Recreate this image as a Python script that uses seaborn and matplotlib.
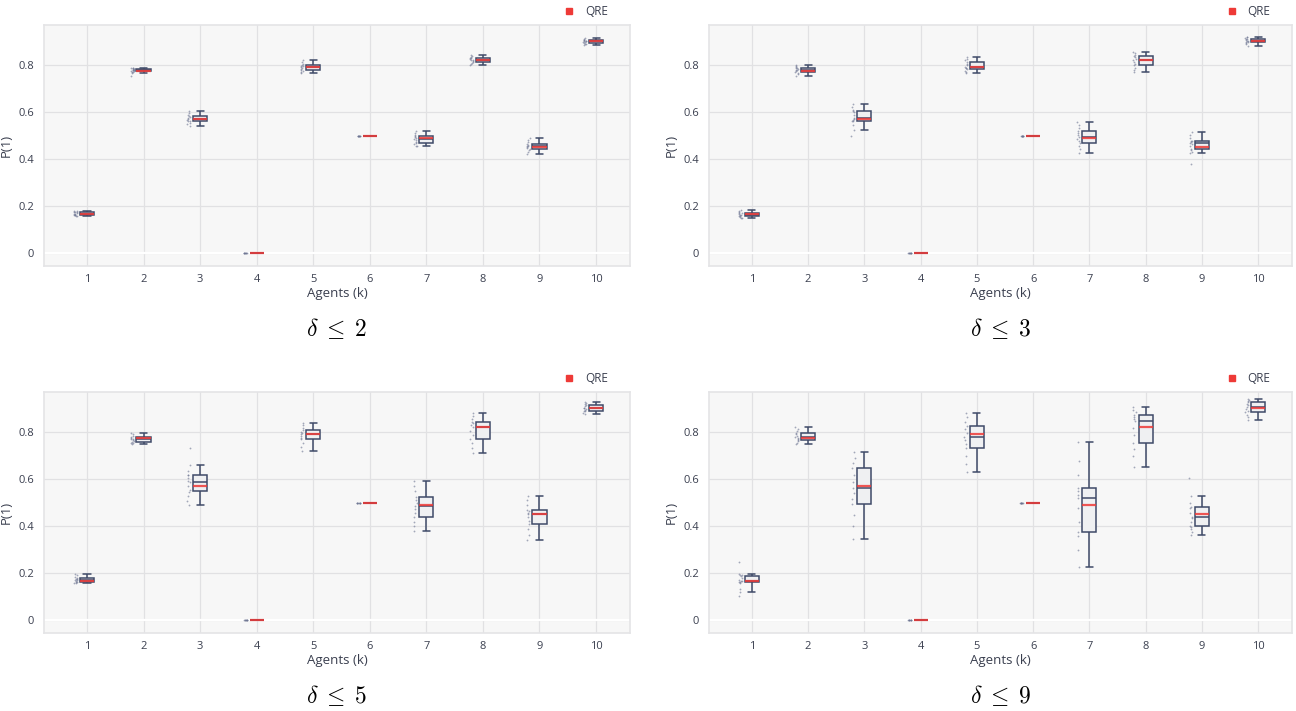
import numpy as np
import pandas as pd
import seaborn as sns
import matplotlib
matplotlib.use("Agg")
import matplotlib.pyplot as plt
from matplotlib.lines import Line2D

# ---------------- data ----------------
agents = [1, 2, 3, 4, 5, 6, 7, 8, 9, 10]
panel_titles = [r"$\delta \;\leq\; 2$", r"$\delta \;\leq\; 3$", r"$\delta \;\leq\; 5$", r"$\delta \;\leq\; 9$"]
qre = [0.168, 0.778, 0.573, 0.003, 0.793, 0.500, 0.493, 0.822, 0.452, 0.904]

delta2 = {
    1: [0.157, 0.159, 0.161, 0.162, 0.164, 0.167, 0.169, 0.171, 0.174, 0.176, 0.178, 0.180, 0.182],
    2: [0.755, 0.766, 0.770, 0.774, 0.775, 0.777, 0.779, 0.780, 0.782, 0.784, 0.786, 0.787, 0.788, 0.789],
    3: [0.544, 0.550, 0.556, 0.562, 0.565, 0.569, 0.572, 0.576, 0.580, 0.584, 0.590, 0.598, 0.605],
    4: [0.0, 0.0, 0.0, 0.0, 0.0, 0.0, 0.0, 0.0],
    5: [0.769, 0.773, 0.777, 0.781, 0.785, 0.789, 0.793, 0.796, 0.799, 0.803, 0.808, 0.814, 0.821],
    6: [0.5, 0.5, 0.5, 0.5, 0.5, 0.5, 0.5, 0.5],
    7: [0.455, 0.459, 0.464, 0.468, 0.474, 0.481, 0.487, 0.491, 0.495, 0.498, 0.505, 0.512, 0.520],
    8: [0.803, 0.808, 0.812, 0.816, 0.819, 0.822, 0.824, 0.827, 0.830, 0.833, 0.837, 0.841, 0.846],
    9: [0.424, 0.432, 0.440, 0.446, 0.449, 0.452, 0.455, 0.459, 0.463, 0.467, 0.474, 0.482, 0.490],
    10: [0.886, 0.890, 0.893, 0.896, 0.898, 0.900, 0.902, 0.904, 0.906, 0.908, 0.910, 0.913, 0.915],
}
delta3 = {
    1: [0.150, 0.152, 0.155, 0.157, 0.160, 0.162, 0.165, 0.167, 0.170, 0.172, 0.176, 0.181, 0.186],
    2: [0.756, 0.762, 0.768, 0.773, 0.776, 0.779, 0.781, 0.784, 0.787, 0.790, 0.794, 0.798, 0.803],
    3: [0.500, 0.527, 0.545, 0.562, 0.564, 0.568, 0.573, 0.577, 0.590, 0.603, 0.604, 0.612, 0.622, 0.634],
    4: [0.0, 0.0, 0.0, 0.0, 0.0, 0.0, 0.0, 0.0],
    5: [0.766, 0.771, 0.777, 0.783, 0.787, 0.790, 0.794, 0.800, 0.808, 0.816, 0.822, 0.829, 0.837],
    6: [0.5, 0.5, 0.5, 0.5, 0.5, 0.5, 0.5, 0.5],
    7: [0.429, 0.442, 0.455, 0.468, 0.478, 0.488, 0.497, 0.505, 0.513, 0.521, 0.534, 0.548, 0.561],
    8: [0.770, 0.781, 0.791, 0.801, 0.808, 0.816, 0.823, 0.829, 0.835, 0.840, 0.846, 0.853, 0.859],
    9: [0.382, 0.425, 0.433, 0.441, 0.445, 0.455, 0.466, 0.470, 0.474, 0.478, 0.480, 0.492, 0.505, 0.518],
    10: [0.884, 0.889, 0.894, 0.899, 0.901, 0.904, 0.906, 0.909, 0.912, 0.914, 0.917, 0.920, 0.923],
}
delta5 = {
    1: [0.157, 0.159, 0.162, 0.164, 0.167, 0.170, 0.172, 0.175, 0.178, 0.181, 0.186, 0.192, 0.198],
    2: [0.751, 0.754, 0.757, 0.760, 0.764, 0.768, 0.771, 0.774, 0.777, 0.780, 0.786, 0.792, 0.799],
    3: [0.493, 0.510, 0.528, 0.547, 0.555, 0.572, 0.588, 0.592, 0.605, 0.617, 0.619, 0.635, 0.661, 0.734],
    4: [0.0, 0.0, 0.0, 0.0, 0.0, 0.0, 0.0, 0.0],
    5: [0.721, 0.738, 0.754, 0.771, 0.778, 0.786, 0.792, 0.797, 0.803, 0.810, 0.820, 0.830, 0.839],
    6: [0.5, 0.5, 0.5, 0.5, 0.5, 0.5, 0.5, 0.5],
    7: [0.381, 0.400, 0.419, 0.438, 0.455, 0.472, 0.488, 0.501, 0.514, 0.527, 0.549, 0.570, 0.592],
    8: [0.711, 0.732, 0.753, 0.774, 0.790, 0.807, 0.823, 0.831, 0.838, 0.846, 0.858, 0.870, 0.882],
    9: [0.342, 0.364, 0.387, 0.409, 0.423, 0.438, 0.452, 0.458, 0.465, 0.471, 0.491, 0.511, 0.531],
    10: [0.879, 0.884, 0.889, 0.893, 0.896, 0.899, 0.902, 0.906, 0.911, 0.915, 0.919, 0.924, 0.928],
}
delta9 = {
    1: [0.105, 0.121, 0.135, 0.160, 0.164, 0.165, 0.167, 0.168, 0.172, 0.180, 0.189, 0.191, 0.194, 0.197, 0.250],
    2: [0.750, 0.756, 0.762, 0.768, 0.772, 0.776, 0.780, 0.786, 0.793, 0.799, 0.807, 0.815, 0.823],
    3: [0.347, 0.400, 0.450, 0.495, 0.518, 0.540, 0.562, 0.590, 0.620, 0.648, 0.670, 0.693, 0.715],
    4: [0.0, 0.0, 0.0, 0.0, 0.0, 0.0, 0.0, 0.0],
    5: [0.632, 0.667, 0.700, 0.733, 0.750, 0.766, 0.782, 0.797, 0.813, 0.828, 0.846, 0.865, 0.883],
    6: [0.5, 0.5, 0.5, 0.5, 0.5, 0.5, 0.5, 0.5],
    7: [0.229, 0.300, 0.360, 0.378, 0.420, 0.480, 0.520, 0.535, 0.550, 0.564, 0.620, 0.680, 0.758],
    8: [0.654, 0.700, 0.730, 0.756, 0.790, 0.820, 0.847, 0.857, 0.867, 0.876, 0.886, 0.897, 0.907],
    9: [0.363, 0.375, 0.388, 0.399, 0.403, 0.420, 0.436, 0.440, 0.455, 0.479, 0.481, 0.500, 0.531, 0.604],
    10: [0.853, 0.865, 0.876, 0.886, 0.893, 0.900, 0.907, 0.915, 0.923, 0.930, 0.934, 0.938, 0.942],
}
panels = [delta2, delta3, delta5, delta9]

# ---------------- style ----------------
sns.set_theme(style="whitegrid")
plt.rcParams["font.family"] = ["Open Sans", "DejaVu Sans"]
plt.rcParams["mathtext.fontset"] = "cm"

BOX_LINE = "#3f4a68"
BOX_FILL = "#eef0f3"
POINT_C = "#6a7290"
QRE_C = "#ee3a37"
BG = "#f7f7f7"
GRID = "#e1e1e3"
TXT = "#3a3f4f"

fig = plt.figure(figsize=(12.96, 7.11), dpi=100)
W, H = 1296, 711
rects = [(44, 25, 630, 266), (709, 25, 1292, 266), (44, 392, 630, 633), (709, 392, 1292, 633)]

BOXW = 0.25
for p, (data, title, (l, t, r, b)) in enumerate(zip(panels, panel_titles, rects)):
    ax = fig.add_axes([l / W, 1 - b / H, (r - l) / W, (b - t) / H])
    rows = [(str(a), v) for a in agents for v in data[a]]
    df = pd.DataFrame(rows, columns=["agent", "p"])
    order = [str(a) for a in agents]

    sns.boxplot(data=df, x="agent", y="p", order=order, ax=ax, width=BOXW,
                color=BOX_FILL, linecolor=BOX_LINE, linewidth=1.1, showfliers=False,
                whis=1.5, zorder=3)
    n_before = len(ax.collections)
    sns.stripplot(data=df, x="agent", y="p", order=order, ax=ax, jitter=0.03,
                  size=1.3, color=POINT_C, alpha=0.6, linewidth=0, zorder=4)
    for coll in ax.collections[n_before:]:
        off = coll.get_offsets()
        off[:, 0] = off[:, 0] - 0.2
        coll.set_offsets(off)

    # QRE markers (red segments across the box width)
    xpos = np.arange(len(agents))
    ax.hlines(qre, xpos - BOXW / 2, xpos + BOXW / 2, colors=QRE_C, linewidth=1.6,
              alpha=0.85, zorder=6)

    ax.set_facecolor(BG)
    ax.set_xlim(-0.76, 9.6)
    ax.set_ylim(-0.054, 0.972)
    ax.set_yticks([0, 0.2, 0.4, 0.6, 0.8])
    ax.set_yticklabels(["0", "0.2", "0.4", "0.6", "0.8"])
    ax.grid(True, color=GRID, linewidth=0.9)
    ax.set_axisbelow(True)
    ax.axhline(0, color="white", linewidth=1.6, zorder=1)
    for s in ax.spines.values():
        s.set_color("#e4e4e6")
        s.set_linewidth(1.2)
    ax.tick_params(axis="both", length=0, labelsize=8, labelcolor=TXT, pad=6)
    ax.tick_params(axis="y", pad=7)
    ax.set_xlabel("Agents (k)", fontsize=9.5, color=TXT, labelpad=1)
    ax.set_ylabel("P(1)", fontsize=9.5, color=TXT, labelpad=4)

    handle = Line2D([], [], marker="s", color=QRE_C, linestyle="none", markersize=5)
    ax.legend([handle], ["QRE"], loc="center right", bbox_to_anchor=(0.972, 1.055),
              frameon=False, fontsize=8.5, handletextpad=0.3, borderpad=0.0,
              labelcolor=TXT)

    cx = (l + r) / 2 / W
    ty = 1 - (b + 63) / H
    fig.text(cx, ty, title, ha="center", va="center", fontsize=17, color="black")

fig.savefig("out.png", dpi=100, facecolor="white")
